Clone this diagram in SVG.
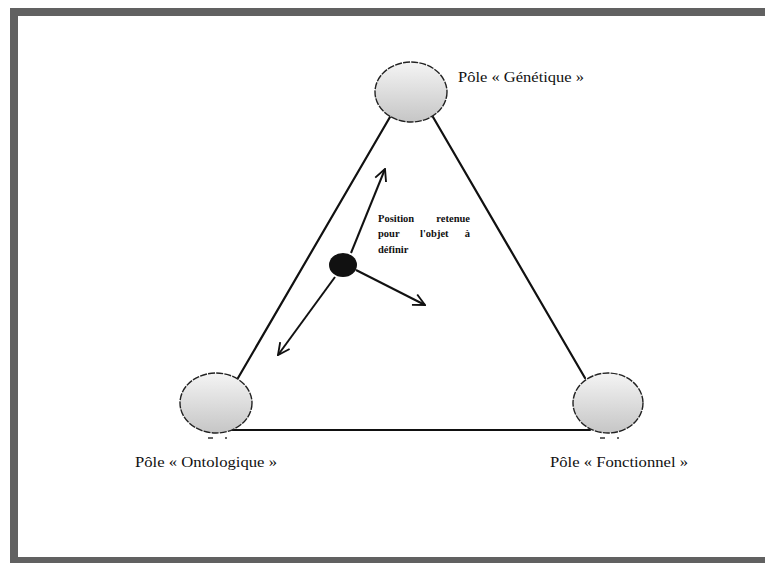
<svg xmlns="http://www.w3.org/2000/svg" width="765" height="563" viewBox="0 0 765 563">
<style>
.lbl{font-family:"Liberation Serif","Times New Roman",serif;font-size:14px;fill:#111}
.sm{font-family:"Liberation Serif","Times New Roman",serif;font-size:10.5px;fill:#111;font-weight:bold}
.pole{fill:url(#g);stroke:#222;stroke-width:1.4;stroke-dasharray:7 1.2}
.edge{stroke:#111;stroke-width:2.2;fill:none;stroke-linecap:round}
.arr{stroke:#111;stroke-width:2;fill:none;marker-end:url(#ah)}
</style>
<defs>
<linearGradient id="g" x1="0" y1="0" x2="0" y2="1">
<stop offset="0" stop-color="#f4f4f4"/>
<stop offset="1" stop-color="#c6c6c6"/>
</linearGradient>
<marker id="ah" viewBox="0 0 12 12" refX="11" refY="6" markerWidth="7" markerHeight="7" markerUnits="strokeWidth" orient="auto">
<path d="M1,1 L11,6 L1,11" fill="none" stroke="#111" stroke-width="1.6"/>
</marker>
</defs>
<rect x="0" y="0" width="765" height="563" fill="#fff"/>
<g id="frame" fill="#616161">
<rect x="10" y="8" width="755" height="8"/>
<rect x="10" y="8" width="8" height="555"/>
<rect x="10" y="557" width="755" height="6"/>
</g>
<g id="connectors">
<line class="edge" x1="238" y1="378" x2="390" y2="117"/>
<line class="edge" x1="433" y1="117" x2="585" y2="378"/>
<line class="edge" x1="232" y1="430" x2="590" y2="430"/>
<line class="arr" x1="351" y1="253" x2="385" y2="169"/>
<line class="arr" x1="335" y1="277" x2="278" y2="355"/>
<line class="arr" x1="356" y1="270" x2="425" y2="305"/>
</g>
<g id="pole-genetique">
<ellipse class="pole" cx="411" cy="92" rx="36" ry="30"/>
<text class="lbl" x="458" y="82" textLength="126" lengthAdjust="spacingAndGlyphs">Pôle « Génétique »</text>
</g>
<g id="pole-ontologique">
<ellipse class="pole" cx="216" cy="403" rx="36" ry="30"/>
<path d="M208,438h5M225,438h2" stroke="#333" stroke-width="1.3"/>
<text class="lbl" x="135" y="467" textLength="142" lengthAdjust="spacingAndGlyphs">Pôle « Ontologique »</text>
</g>
<g id="pole-fonctionnel">
<ellipse class="pole" cx="608" cy="403" rx="35" ry="30"/>
<path d="M600,438h5M617,438h2" stroke="#333" stroke-width="1.3"/>
<text class="lbl" x="550" y="467" textLength="138" lengthAdjust="spacingAndGlyphs">Pôle « Fonctionnel »</text>
</g>
<g id="position">
<ellipse cx="343" cy="265" rx="14" ry="12" fill="#111"/>
<text class="sm" x="378" y="222">Position</text>
<text class="sm" x="470" y="222" text-anchor="end">retenue</text>
<text class="sm" x="378" y="237">pour</text>
<text class="sm" x="420" y="237">l'objet</text>
<text class="sm" x="470" y="237" text-anchor="end">à</text>
<text class="sm" x="378" y="253">définir</text>
</g>
</svg>
